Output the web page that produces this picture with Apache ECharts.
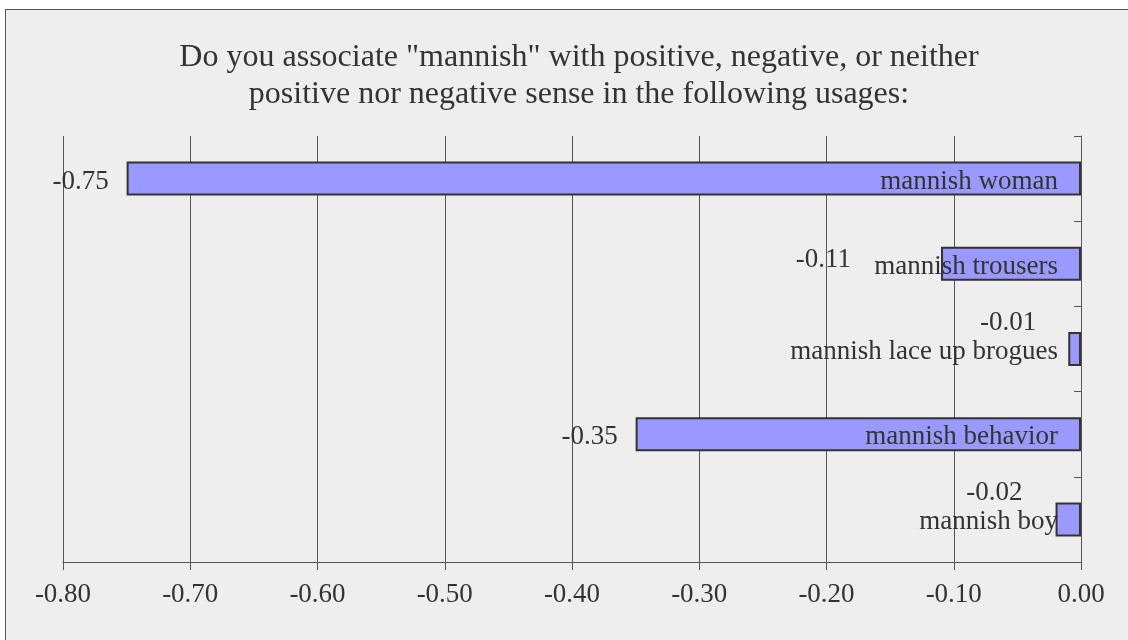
<!DOCTYPE html>
<html>
<head>
<meta charset="utf-8">
<script src="https://cdn.jsdelivr.net/npm/echarts@6/dist/echarts.min.js"></script>
<style>
  html, body { margin: 0; padding: 0; background: #ffffff; }
  #frame { position: absolute; left: 5px; top: 9px; width: 1200px; height: 700px; background: #eeeeee; border: 1px solid #555555; }
  #chart { position: absolute; left: 0; top: 0; width: 1128px; height: 640px; }
</style>
</head>
<body>
<div id="frame"></div>
<div id="chart"></div>
<script>
const titleText = 'Do you associate "mannish" with positive, negative, or neither\npositive nor negative sense in the following usages:';
const categories = ['mannish woman', 'mannish trousers', 'mannish lace up brogues', 'mannish behavior', 'mannish boy'];
const values = [-0.75, -0.11, -0.01, -0.35, -0.02];
const xTickMin = -0.8;
const xTickMax = 0;
const xTickStep = 0.1;
// label nudges (offset [x, y]) copying where the reference places each value label
const valueLabelOffsets = [[0, 3], [-72, -4], [-14, -26], [0, 3], [-15, -26]];

const FONT = '"Liberation Serif", "Times New Roman", serif';
const TXT = '#333333';
const LINE = '#555555';

const chart = echarts.init(document.getElementById('chart'), null, { renderer: 'canvas' });
chart.setOption({
  backgroundColor: 'transparent',
  animation: false,
  title: {
    text: titleText,
    left: 574,
    top: 34,
    textAlign: 'center',
    textStyle: { fontFamily: FONT, fontSize: 32, fontWeight: 'normal', color: TXT, lineHeight: 37 }
  },
  grid: { left: 63, right: 47, top: 136, bottom: 78, containLabel: false },
  xAxis: {
    type: 'value',
    min: xTickMin, max: xTickMax, interval: xTickStep,
    axisLine: { show: true, onZero: false, lineStyle: { color: LINE, width: 1 } },
    axisTick: { show: true, length: 8, lineStyle: { color: LINE } },
    splitLine: { show: true, lineStyle: { color: LINE, width: 1 } },
    axisLabel: { fontFamily: FONT, fontSize: 27, color: TXT, margin: 19, formatter: v => v.toFixed(2) }
  },
  yAxis: {
    type: 'category',
    data: categories,
    position: 'right',
    inverse: true,
    z: 5,
    axisLine: { show: true, lineStyle: { color: LINE, width: 1 } },
    axisTick: { show: true, inside: true, length: 7, lineStyle: { color: LINE } },
    splitLine: { show: false },
    axisLabel: {
      inside: true, margin: 23, fontFamily: FONT, fontSize: 27, color: TXT,
      formatter: v => '{n|' + v + '}',
      rich: { n: { fontFamily: FONT, fontSize: 27, color: TXT, padding: [6, 0, 0, 0] } }
    }
  },
  series: [{
    type: 'bar',
    barWidth: 34,
    itemStyle: { color: '#9999ff', borderColor: '#333333', borderWidth: 2 },
    label: {
      show: true, position: 'left', distance: 18,
      fontFamily: FONT, fontSize: 27, color: TXT,
      formatter: p => p.value.toFixed(2)
    },
    data: values.map((v, i) => ({ value: v, label: { offset: valueLabelOffsets[i] } }))
  }]
});
</script>
</body>
</html>
